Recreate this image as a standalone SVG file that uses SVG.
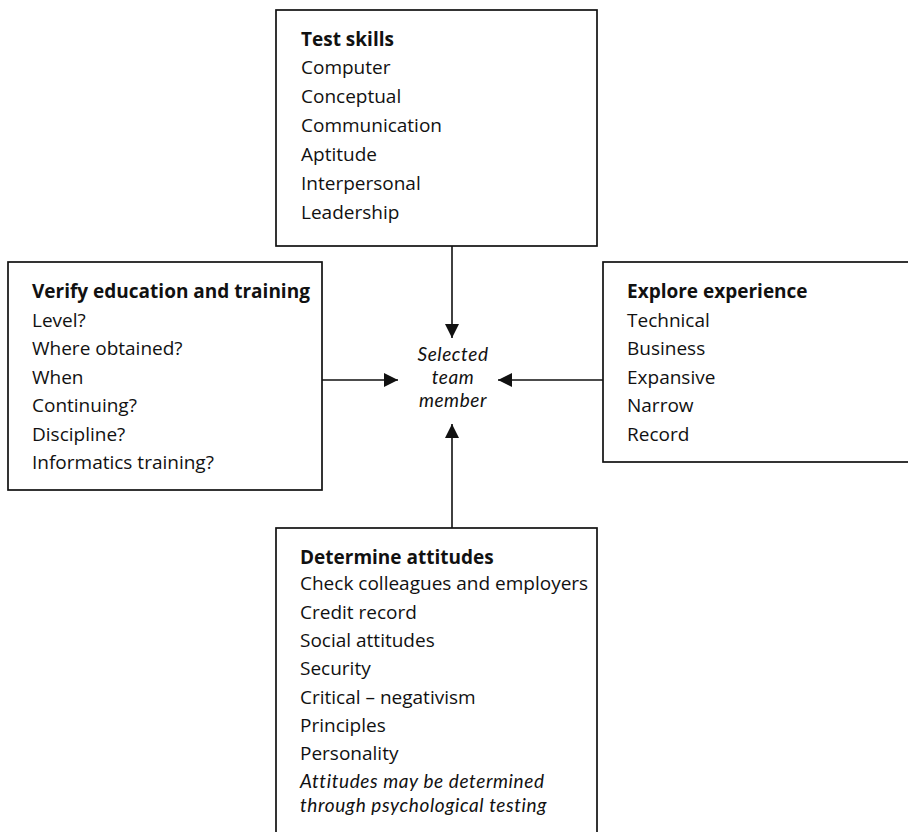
<svg xmlns="http://www.w3.org/2000/svg" width="908" height="832" viewBox="0 0 908 832">
  <style>
    .box { fill: #fff; stroke: #111; stroke-width: 1.7; }
    .t { font-family: "Open Sans", "Liberation Sans", sans-serif; font-size: 19px; fill: #111; }
    .h { font-weight: bold; }
    .i { font-family: Lato, "Open Sans", sans-serif; font-style: italic; font-size: 19px; letter-spacing: 0.6px; }
    .c { text-anchor: middle; }
    .link { stroke: #111; stroke-width: 1.6; fill: none; marker-end: url(#arrow); }
  </style>
  <defs>
    <marker id="arrow" viewBox="0 0 14 14" refX="14" refY="7" markerWidth="14" markerHeight="14" markerUnits="userSpaceOnUse" orient="auto">
      <path d="M0,0 L14,7 L0,14 Z" fill="#111"/>
    </marker>
  </defs>
  <rect width="908" height="832" fill="#fff"/>

  <!-- arrows feeding into the central label -->
  <g id="connectors">
    <line class="link" x1="452" y1="246" x2="452" y2="338"/>
    <line class="link" x1="322" y1="380" x2="398" y2="380"/>
    <line class="link" x1="603" y1="380" x2="498" y2="380"/>
    <line class="link" x1="452" y1="528" x2="452" y2="424"/>
  </g>

  <g id="test-skills">
    <rect class="box" x="276" y="10" width="321" height="236"/>
    <text class="t h" x="301" y="46">Test skills</text>
    <text class="t" x="301" y="74">Computer</text>
    <text class="t" x="301" y="103">Conceptual</text>
    <text class="t" x="301" y="132">Communication</text>
    <text class="t" x="301" y="161">Aptitude</text>
    <text class="t" x="301" y="190">Interpersonal</text>
    <text class="t" x="301" y="219">Leadership</text>
  </g>

  <g id="verify-education">
    <rect class="box" x="8" y="262" width="314" height="228"/>
    <text class="t h" x="32" y="298">Verify education and training</text>
    <text class="t" x="32" y="327">Level?</text>
    <text class="t" x="32" y="355">Where obtained?</text>
    <text class="t" x="32" y="384">When</text>
    <text class="t" x="32" y="412">Continuing?</text>
    <text class="t" x="32" y="441">Discipline?</text>
    <text class="t" x="32" y="469">Informatics training?</text>
  </g>

  <g id="explore-experience">
    <rect class="box" x="603" y="262" width="310" height="200"/>
    <text class="t h" x="627" y="298">Explore experience</text>
    <text class="t" x="627" y="327">Technical</text>
    <text class="t" x="627" y="355">Business</text>
    <text class="t" x="627" y="384">Expansive</text>
    <text class="t" x="627" y="412">Narrow</text>
    <text class="t" x="627" y="441">Record</text>
  </g>

  <g id="selected-member">
    <text class="t i c" x="453" y="361">Selected</text>
    <text class="t i c" x="453" y="384">team</text>
    <text class="t i c" x="453" y="407">member</text>
  </g>

  <g id="determine-attitudes">
    <rect class="box" x="276" y="528" width="321" height="310"/>
    <text class="t h" x="300" y="564">Determine attitudes</text>
    <text class="t" x="300" y="590">Check colleagues and employers</text>
    <text class="t" x="300" y="619">Credit record</text>
    <text class="t" x="300" y="647">Social attitudes</text>
    <text class="t" x="300" y="675">Security</text>
    <text class="t" x="300" y="704">Critical – negativism</text>
    <text class="t" x="300" y="732">Principles</text>
    <text class="t" x="300" y="760">Personality</text>
    <text class="t i" x="300" y="788">Attitudes may be determined</text>
    <text class="t i" x="300" y="812">through psychological testing</text>
  </g>
</svg>
